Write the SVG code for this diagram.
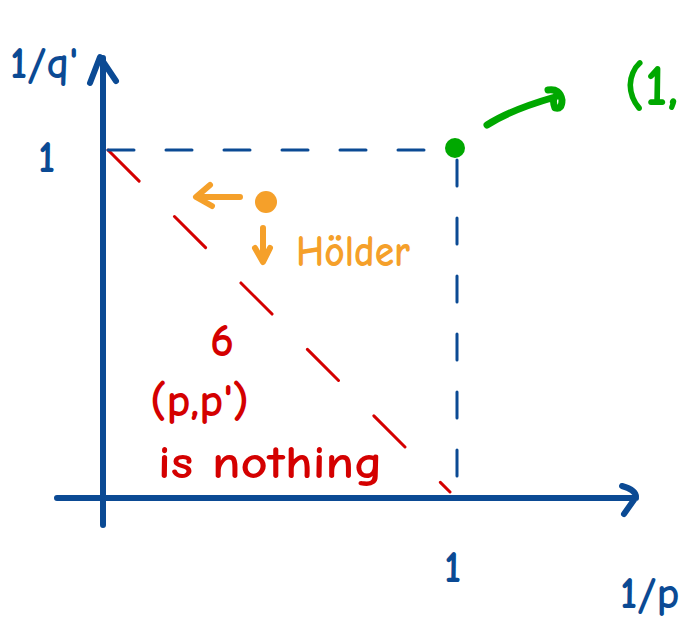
<svg xmlns="http://www.w3.org/2000/svg" width="696" height="620" viewBox="0 0 696 620">
<style>
.blue{stroke:#0b4a94;fill:none;stroke-linecap:round;stroke-linejoin:round}
.ax{stroke-width:6}
.dash{stroke-width:3;stroke-dasharray:26 32}
.red{stroke:#d40000;fill:none;stroke-width:3;stroke-linecap:round;stroke-dasharray:44 50}
.org{stroke:#f5a02a;fill:none;stroke-width:6;stroke-linecap:round;stroke-linejoin:round}
.grn{stroke:#00a800;fill:none;stroke-width:7;stroke-linecap:round;stroke-linejoin:round}
text{font-family:"Comic Neue","Liberation Sans",sans-serif;font-weight:bold}
.tb{fill:#0b4a94;font-size:44px}
.tr{fill:#d40000;font-size:46px}
.to{fill:#f5a02a;font-size:44px}
.tg{fill:#00a800;font-size:58px}
</style>
<g id="connectors">
<path class="red" d="M108 150 L450 492"/>
<path class="blue dash" d="M108 150 H452"/>
<path class="blue dash" d="M457 160 V495"/>
<path class="blue ax" d="M103 525 V58 M90 83 L100 57 L116 81"/>
<path class="blue ax" d="M57 498 H636 M622 486 Q636 490 636 497 L624 514"/>
<path class="org" d="M240 197 H200 M210 185 L196 197 L212 206"/>
<path class="org" d="M263 228 V260 M255 248 L263 262 L270 248"/>
<path class="grn" d="M487 125 Q510 110 555 97 M548 90 Q560 88 562 100 Q562 110 555 108 Q552 100 555 97"/>
</g>
<g id="axis-labels">
<text class="tb" x="10" y="78" font-size="48">1/q'</text>
<text class="tb" x="38" y="172">1</text>
<text class="tb" x="444" y="582">1</text>
<text class="tb" x="620" y="608" font-size="50">1/p</text>
</g>
<g id="point-green"><circle cx="455" cy="148" r="10" fill="#00a800"/><text class="tg" x="624" y="105">(1,</text></g>
<g id="point-orange"><circle cx="266" cy="202" r="11" fill="#f5a02a"/><text class="to" x="296" y="266" textLength="114" lengthAdjust="spacingAndGlyphs">Hölder</text></g>
<g id="note-red">
<text class="tr" x="210" y="356">6</text>
<text class="tr" x="150" y="416">(p,p')</text>
<text class="tr" x="158" y="478" textLength="225" lengthAdjust="spacingAndGlyphs">is nothing</text>
</g>
</svg>
